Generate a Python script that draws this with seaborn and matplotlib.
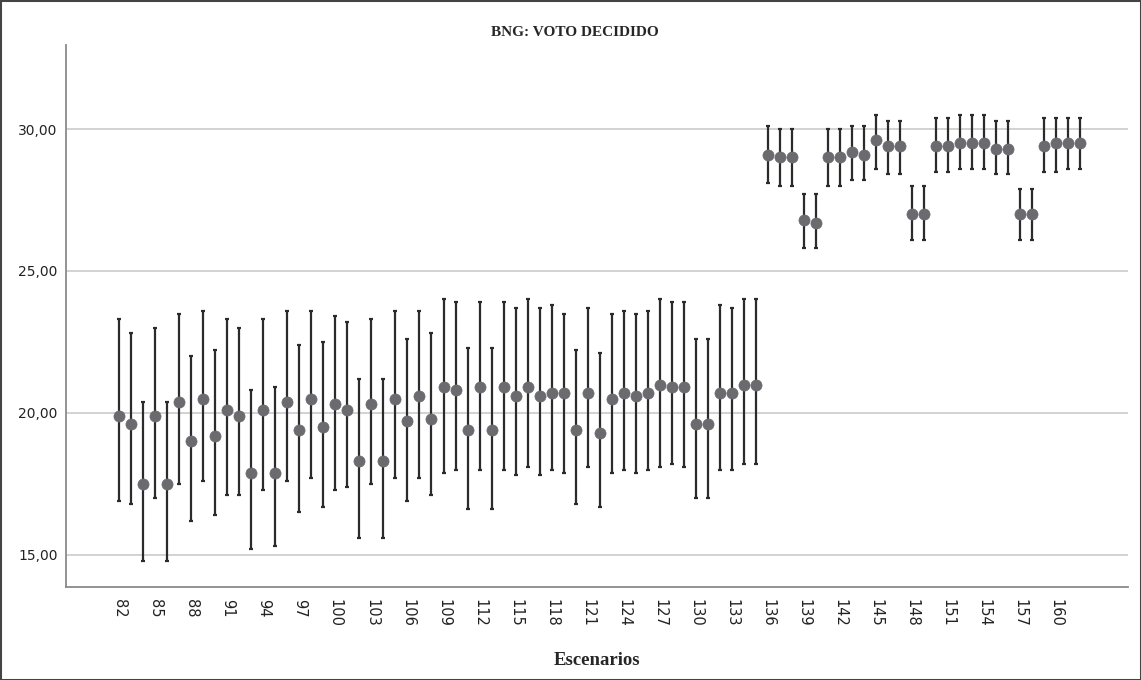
import numpy as np
import pandas as pd
import seaborn as sns
import matplotlib
matplotlib.use("Agg")
import matplotlib.pyplot as plt
from matplotlib.patches import Rectangle

# ---- data ----
scenarios = list(range(82, 163))
means = [19.9, 19.6, 17.5, 19.9, 17.5, 20.4, 19.0, 20.5, 19.2, 20.1,
         19.9, 17.9, 20.1, 17.9, 20.4, 19.4, 20.5, 19.5, 20.3, 20.1,
         18.3, 20.3, 18.3, 20.5, 19.7, 20.6, 19.8, 20.9, 20.8, 19.4,
         20.9, 19.4, 20.9, 20.6, 20.9, 20.6, 20.7, 20.7, 19.4, 20.7,
         19.3, 20.5, 20.7, 20.6, 20.7, 21.0, 20.9, 20.9, 19.6, 19.6,
         20.7, 20.7, 21.0, 21.0,
         29.1, 29.0, 29.0, 26.8, 26.7, 29.0, 29.0, 29.2, 29.1, 29.6,
         29.4, 29.4, 27.0, 27.0, 29.4, 29.4, 29.5, 29.5, 29.5, 29.3,
         29.3, 27.0, 27.0, 29.4, 29.5, 29.5, 29.5]
upper = [23.3, 22.8, 20.4, 23.0, 20.4, 23.5, 22.0, 23.6, 22.2, 23.3,
         23.0, 20.8, 23.3, 20.9, 23.6, 22.4, 23.6, 22.5, 23.4, 23.2,
         21.2, 23.3, 21.2, 23.6, 22.6, 23.6, 22.8, 24.0, 23.9, 22.3,
         23.9, 22.3, 23.9, 23.7, 24.0, 23.7, 23.8, 23.5, 22.2, 23.7,
         22.1, 23.5, 23.6, 23.5, 23.6, 24.0, 23.9, 23.9, 22.6, 22.6,
         23.8, 23.7, 24.0, 24.0,
         30.1, 30.0, 30.0, 27.7, 27.7, 30.0, 30.0, 30.1, 30.1, 30.5,
         30.3, 30.3, 28.0, 28.0, 30.4, 30.4, 30.5, 30.5, 30.5, 30.3,
         30.3, 27.9, 27.9, 30.4, 30.4, 30.4, 30.4]
lower = [16.9, 16.8, 14.8, 17.0, 14.8, 17.5, 16.2, 17.6, 16.4, 17.1,
         17.1, 15.2, 17.3, 15.3, 17.6, 16.5, 17.7, 16.7, 17.3, 17.4,
         15.6, 17.5, 15.6, 17.7, 16.9, 17.7, 17.1, 17.9, 18.0, 16.6,
         18.0, 16.6, 18.0, 17.8, 18.1, 17.8, 18.0, 17.9, 16.8, 18.1,
         16.7, 17.9, 18.0, 17.9, 18.0, 18.1, 18.2, 18.1, 17.0, 17.0,
         18.0, 18.0, 18.2, 18.2,
         28.1, 28.0, 28.0, 25.8, 25.8, 28.0, 28.0, 28.2, 28.2, 28.6,
         28.4, 28.4, 26.1, 26.1, 28.5, 28.5, 28.6, 28.6, 28.6, 28.4,
         28.4, 26.1, 26.1, 28.5, 28.5, 28.6, 28.6]
tick_values = list(range(82, 161, 3))
y_ticks = [15, 20, 25, 30]
y_tick_labels = ["15,00", "20,00", "25,00", "30,00"]
title = "BNG: VOTO DECIDIDO"
x_label = "Escenarios"

df = pd.DataFrame({"escenario": scenarios, "media": means,
                   "lo": lower, "hi": upper})

sns.set_style("white")
plt.rcParams["font.family"] = ["DejaVu Sans"]

fig = plt.figure(figsize=(11.41, 6.80), dpi=100)
ax = fig.add_axes([0.0578, 0.1368, 0.9308, 0.797])

# grid lines
for yv in y_ticks:
    ax.axhline(yv, color="#d2d2d2", lw=1.4, zorder=0)

yerr = np.vstack([df["media"] - df["lo"], df["hi"] - df["media"]])
ax.errorbar(df["escenario"], df["media"], yerr=yerr, fmt="none",
            ecolor="#2b2b2b", elinewidth=1.6, capsize=1.3, capthick=1.6,
            zorder=2)
sns.scatterplot(data=df, x="escenario", y="media", ax=ax, s=64,
                color="#6b6b6f", edgecolor="#6b6b6f", linewidth=0.5,
                zorder=3, legend=False)

ax.set_xlim(77.56, 166.0)
ax.set_ylim(13.87, 32.96)
ax.set_xticks(tick_values)
ax.set_xticklabels([str(t) for t in tick_values], rotation=-90,
                   fontsize=10.5, color="#222222")
ax.set_yticks(y_ticks)
ax.set_yticklabels(y_tick_labels, fontsize=10, color="#222222")
ax.tick_params(axis="both", length=0)
ax.tick_params(axis="x", pad=9)
ax.tick_params(axis="y", pad=6)

for s in ["top", "right"]:
    ax.spines[s].set_visible(False)
for s in ["left", "bottom"]:
    ax.spines[s].set_color("#8a8a8a")
    ax.spines[s].set_linewidth(1.3)

ax.set_xlabel(x_label, fontsize=13.5, fontweight="bold",
              family=["Liberation Serif", "DejaVu Serif"], labelpad=18)
ax.set_ylabel("")
fig.text(0.504, 0.952, title, ha="center", va="center", fontsize=11,
         fontweight="bold", family=["Liberation Serif", "DejaVu Serif"])

fig.add_artist(Rectangle((0, 0), 1, 1, transform=fig.transFigure,
                         fill=False, edgecolor="#444444", lw=2.2))

fig.savefig("out.png", dpi=100)
